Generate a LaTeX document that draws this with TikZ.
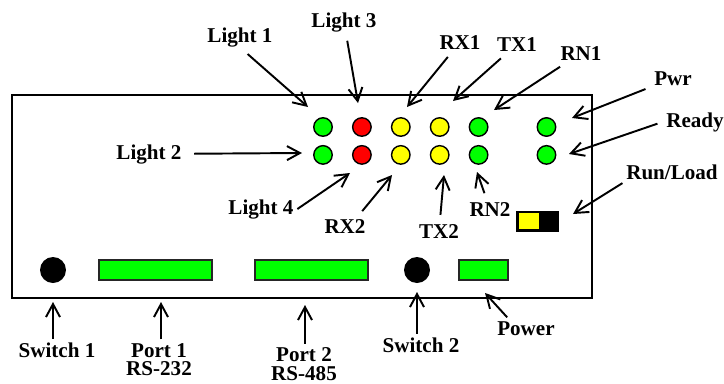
\documentclass[tikz,border=0pt]{standalone}
\usepackage{fontspec}
\setmainfont{Liberation Serif}
\usepackage{tikz}
\usetikzlibrary{arrows.meta,positioning}
\definecolor{ledgreen}{RGB}{0,255,0}
\definecolor{ledyellow}{RGB}{255,255,0}
\definecolor{ledred}{RGB}{255,0,0}
\tikzset{
  led/.style={circle, draw=black, line width=0.8pt, minimum size=0.37cm, inner sep=0pt},
  knob/.style={circle, fill=black, minimum size=0.52cm, inner sep=0pt},
  portbox/.style={draw=black!85, line width=1pt, fill=ledgreen, minimum height=0.41cm, inner sep=0pt},
  lbl/.style={font={\fontsize{12}{10.6}\selectfont\bfseries}, inner sep=2pt, align=center},
  callout/.style={-{Straight Barb[length=2.6mm, width=2.8mm]}, line width=1.1pt, shorten <=3pt}
}
\begin{document}
\begin{tikzpicture}[x=0.02cm, y=-0.02cm, node distance=0.38cm]
\useasboundingbox (0,0) rectangle (724,383);
% housing
\draw[line width=1.4pt] (12,95) rectangle (592,298);

% status lights
\node[led, fill=ledgreen] (l1) at (323,127) {};
\node[led, fill=ledred, right=of l1] (l3) {};
\node[led, fill=ledyellow, right=of l3] (rx1) {};
\node[led, fill=ledyellow, right=of rx1] (tx1) {};
\node[led, fill=ledgreen, right=of tx1] (rn1) {};
\node[led, fill=ledgreen, right=0.96cm of rn1] (pwr) {};
\node[led, fill=ledgreen, below=0.16cm of l1] (l2) {};
\node[led, fill=ledred, right=of l2] (l4) {};
\node[led, fill=ledyellow, right=of l4] (rx2) {};
\node[led, fill=ledyellow, right=of rx2] (tx2) {};
\node[led, fill=ledgreen, right=of tx2] (rn2) {};
\node[led, fill=ledgreen, right=0.96cm of rn2] (rdy) {};

% run/load switch
\node[fill=black, draw=black, minimum width=0.84cm, minimum height=0.40cm, inner sep=0pt] (rl) at (537.5,221.5) {};
\node[fill=ledyellow, minimum width=0.41cm, minimum height=0.33cm, inner sep=0pt] (rlknob) at (529,221) {};

% bottom row
\node[knob] (sw1) at (53,270) {};
\node[portbox, minimum width=2.26cm] (p1) at (155.5,270) {};
\node[portbox, minimum width=2.26cm] (p2) at (311.5,270) {};
\node[knob] (sw2) at (417,270) {};
\node[portbox, minimum width=0.98cm] (pow) at (483.5,270) {};

% labels
\node[lbl, anchor=base] (l1txt) at (240,42) {Light 1};
\node[lbl, anchor=base] (l3txt) at (344,27) {Light 3};
\node[lbl, anchor=base] (l2txt) at (149,159) {Light 2};
\node[lbl, anchor=base] (l4txt) at (261,214) {Light 4};
\node[lbl, anchor=base] (rx1txt) at (460,49) {RX1};
\node[lbl, anchor=base] (tx1txt) at (517,51) {TX1};
\node[lbl, anchor=base] (rn1txt) at (581,60) {RN1};
\node[lbl, anchor=base] (pwrtxt) at (673,85) {Pwr};
\node[lbl, anchor=base] (rdytxt) at (695,127) {Ready};
\node[lbl, anchor=base] (rltxt) at (672,179) {Run/Load};
\node[lbl, anchor=base] (rx2txt) at (345,233) {RX2};
\node[lbl, anchor=base] (tx2txt) at (439,238) {TX2};
\node[lbl, anchor=base] (rn2txt) at (490,216) {RN2};
\node[lbl, anchor=base] (sw1txt) at (57,357) {Switch 1};
\node[lbl] (p1txt) at (159,359.5) {Port 1\\RS-232};
\node[lbl] (p2txt) at (304,364) {Port 2\\RS-485};
\node[lbl, anchor=base] (sw2txt) at (421,352) {Switch 2};
\node[lbl, anchor=base] (powtxt) at (526,335) {Power};

% arrow tips
\coordinate (l1tip) at (308,107);
\coordinate (l3tip) at (358,103);
\coordinate (l2tip) at (302,153);
\coordinate (l4tip) at (350,173);
\coordinate (rx1tip) at (407,107);
\coordinate (tx1tip) at (453,101);
\coordinate (rn1tip) at (494,110);
\coordinate (pwrtip) at (572,118);
\coordinate (rdytip) at (569,154);
\coordinate (rltip) at (573,214);
\coordinate (rx2tip) at (392,175);
\coordinate (tx2tip) at (444,175);
\coordinate (rn2tip) at (477,172);
\coordinate (sw1tip) at (53,302);
\coordinate (p1tip) at (161,302);
\coordinate (p2tip) at (305,305);
\coordinate (sw2tip) at (417,292);
\coordinate (powtip) at (485,293);

\draw[callout] (l1txt.-75) -- (l1tip);
\draw[callout] (l3txt) -- (l3tip);
\draw[callout, shorten <=5pt] (l2txt) -- (l2tip);
\draw[callout, shorten <=0pt] (l4txt.east) -- (l4tip);
\draw[callout] (rx1txt) -- (rx1tip);
\draw[callout] (tx1txt) -- (tx1tip);
\draw[callout] (rn1txt) -- (rn1tip);
\draw[callout] (pwrtxt) -- (pwrtip);
\draw[callout] (rdytxt.west) -- (rdytip);
\draw[callout, shorten <=0pt] (rltxt.south west) -- (rltip);
\draw[callout] (rx2txt.38) -- (rx2tip);
\draw[callout] (tx2txt) -- (tx2tip);
\draw[callout] (rn2txt) -- (rn2tip);
\draw[callout, shorten <=0pt] (sw1txt.north -| sw1tip) -- (sw1tip);
\draw[callout, shorten <=0pt] (p1txt.north -| p1tip) -- (p1tip);
\draw[callout, shorten <=0pt] (p2txt.north -| p2tip) -- (p2tip);
\draw[callout, shorten <=0pt] (sw2txt.north -| sw2tip) -- (sw2tip);
\draw[callout, shorten <=0pt] (powtxt.150) -- (powtip);
\end{tikzpicture}
\end{document}
